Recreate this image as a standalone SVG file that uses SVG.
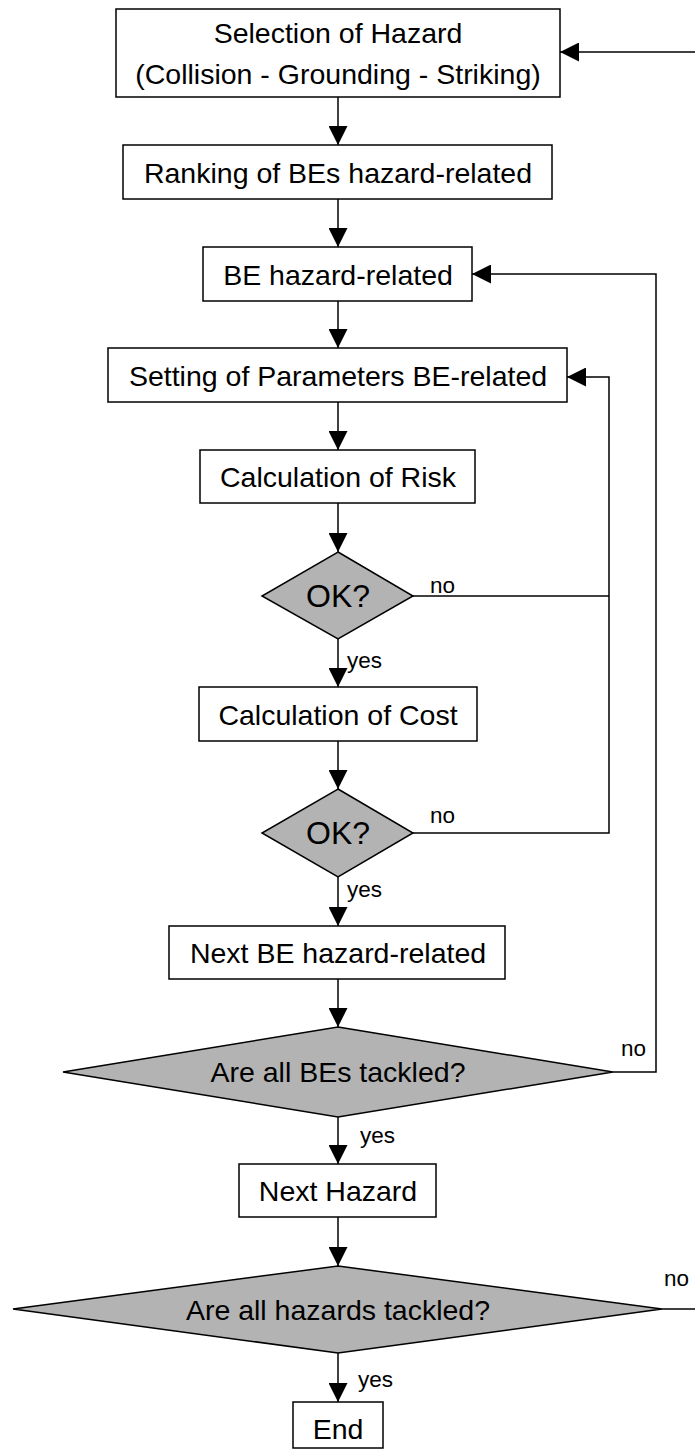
<svg xmlns="http://www.w3.org/2000/svg" width="695" height="1450" viewBox="0 0 695 1450">
<defs>
<style>
.box{fill:#fff;stroke:#000;stroke-width:1.5}
.dia{fill:#b3b3b3;stroke:#000;stroke-width:1.5}
.t{font-family:"Liberation Sans",Arial,sans-serif;font-size:28.5px;fill:#000;text-anchor:middle}
.ok{font-family:"Liberation Sans",Arial,sans-serif;font-size:32px;fill:#000;text-anchor:middle}
.lbl{font-family:"Liberation Sans",Arial,sans-serif;font-size:22.5px;fill:#000}
.c{fill:none;stroke:#000;stroke-width:1.5}
</style>
<marker id="ah" markerUnits="userSpaceOnUse" viewBox="0 0 19 19" refX="19" refY="9.5" markerWidth="19" markerHeight="19" orient="auto">
<path d="M0,0 L19,9.5 L0,19 z" fill="#000"/>
</marker>
</defs>
<rect width="695" height="1450" fill="#fff"/>
<g id="connectors">
<line class="c" x1="338" y1="97" x2="338" y2="145" marker-end="url(#ah)"/>
<line class="c" x1="338" y1="199" x2="338" y2="247" marker-end="url(#ah)"/>
<line class="c" x1="338" y1="301" x2="338" y2="348" marker-end="url(#ah)"/>
<line class="c" x1="338" y1="402" x2="338" y2="450" marker-end="url(#ah)"/>
<line class="c" x1="338" y1="503" x2="338" y2="552" marker-end="url(#ah)"/>
<line class="c" x1="338" y1="639" x2="338" y2="687" marker-end="url(#ah)"/>
<line class="c" x1="338" y1="741" x2="338" y2="789" marker-end="url(#ah)"/>
<line class="c" x1="338" y1="877" x2="338" y2="926" marker-end="url(#ah)"/>
<line class="c" x1="338" y1="979" x2="338" y2="1027" marker-end="url(#ah)"/>
<line class="c" x1="338" y1="1117" x2="338" y2="1164" marker-end="url(#ah)"/>
<line class="c" x1="338" y1="1217" x2="338" y2="1266" marker-end="url(#ah)"/>
<line class="c" x1="338" y1="1353" x2="338" y2="1402" marker-end="url(#ah)"/>
<polyline class="c" points="413,596 609,596"/>
<polyline class="c" points="413,833 609,833 609,377 567,377" marker-end="url(#ah)"/>
<polyline class="c" points="613,1072 656,1072 656,274 472,274" marker-end="url(#ah)"/>
<line class="c" x1="662" y1="1309" x2="697" y2="1309"/>
<line class="c" x1="697" y1="52" x2="560" y2="52" marker-end="url(#ah)"/>
<text class="lbl" x="430" y="593">no</text>
<text class="lbl" x="347" y="668">yes</text>
<text class="lbl" x="430" y="823">no</text>
<text class="lbl" x="347" y="897">yes</text>
<text class="lbl" x="621" y="1056">no</text>
<text class="lbl" x="360" y="1143">yes</text>
<text class="lbl" x="664" y="1286">no</text>
<text class="lbl" x="358" y="1387">yes</text>
</g>
<g id="n1"><rect class="box" x="116" y="9" width="444" height="88"/><text class="t" x="338" y="43">Selection of Hazard</text><text class="t" x="338" y="84">(Collision - Grounding - Striking)</text></g>
<g id="n2"><rect class="box" x="123" y="145" width="429" height="54"/><text class="t" x="338" y="182.5">Ranking of BEs hazard-related</text></g>
<g id="n3"><rect class="box" x="203" y="247" width="269" height="54"/><text class="t" x="338" y="284.5">BE hazard-related</text></g>
<g id="n4"><rect class="box" x="108" y="348" width="459" height="54"/><text class="t" x="338" y="385.5">Setting of Parameters BE-related</text></g>
<g id="n5"><rect class="box" x="200" y="450" width="275" height="53"/><text class="t" x="338" y="487">Calculation of Risk</text></g>
<g id="n6"><polygon class="dia" points="338,552 413,596 338,639 262,596"/><text class="ok" x="338" y="607">OK?</text></g>
<g id="n7"><rect class="box" x="199" y="687" width="278" height="54"/><text class="t" x="338" y="724.5">Calculation of Cost</text></g>
<g id="n8"><polygon class="dia" points="338,789 413,833 338,877 262,833"/><text class="ok" x="338" y="844">OK?</text></g>
<g id="n9"><rect class="box" x="169" y="926" width="336" height="53"/><text class="t" x="338" y="963">Next BE hazard-related</text></g>
<g id="n10"><polygon class="dia" points="338,1027 613,1072 338,1117 63,1072"/><text class="t" x="338" y="1082">Are all BEs tackled?</text></g>
<g id="n11"><rect class="box" x="239" y="1164" width="197" height="53"/><text class="t" x="338" y="1201">Next Hazard</text></g>
<g id="n12"><polygon class="dia" points="338,1266 662,1309 338,1353 13,1309"/><text class="t" x="338" y="1320">Are all hazards tackled?</text></g>
<g id="n13"><rect class="box" x="293" y="1402" width="90" height="46"/><text class="t" x="338" y="1439">End</text></g>
</svg>
